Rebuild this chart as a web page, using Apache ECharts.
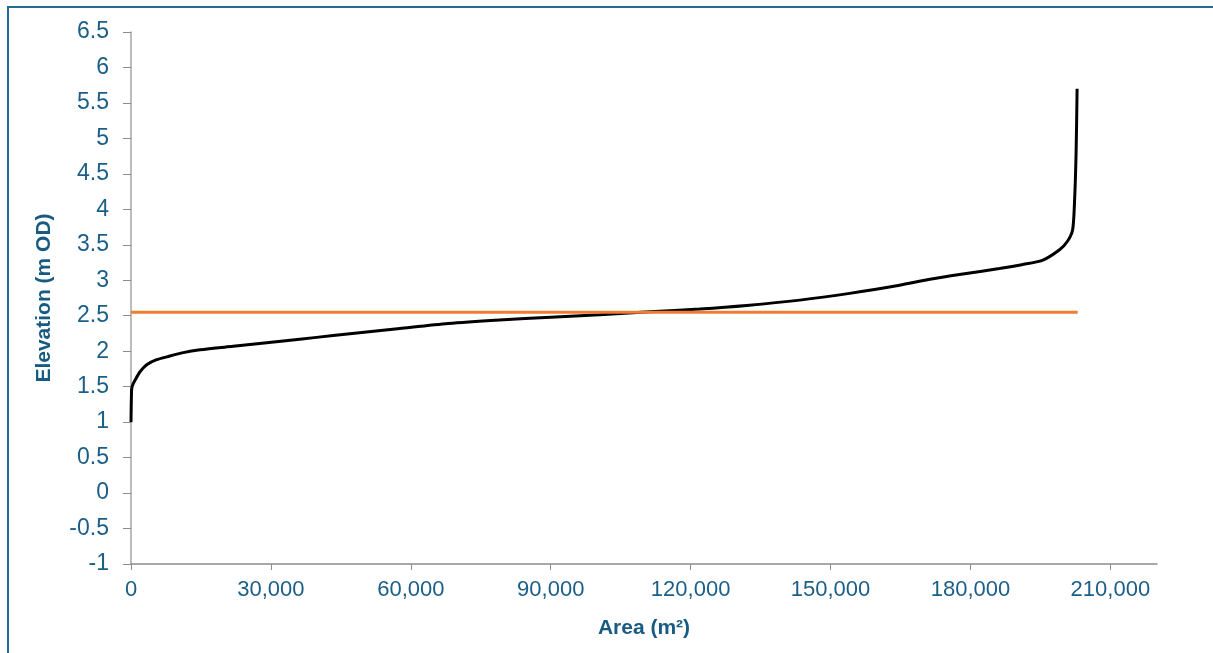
<!DOCTYPE html>
<html>
<head>
<meta charset="utf-8">
<title>Elevation vs Area</title>
<script src="https://cdn.jsdelivr.net/npm/echarts@6/dist/echarts.min.js"></script>
<style>
  html, body { margin: 0; padding: 0; background: #ffffff; }
  #chart { width: 1213px; height: 653px; }
</style>
</head>
<body>
<div id="chart"></div>
<script>
// Cumulative area (m²) lying below each elevation (m OD)
const areaValues = [0, 40, 90, 150, 400, 857, 1930, 3360, 5500, 7650, 11200, 14800, 21900,
  29100, 36200, 43350, 50500, 57650, 68000, 79000, 90000, 100500, 111200, 121900,
  132000, 143400, 154100, 164800, 171000, 178000, 186200, 191000, 195400, 199100,
  200800, 201900, 202300, 202650, 202870];
const elevationValues = [1.0, 1.2, 1.38, 1.47, 1.53, 1.59, 1.71, 1.81, 1.88, 1.92, 1.98, 2.02, 2.07,
  2.12, 2.17, 2.22, 2.27, 2.32, 2.39, 2.44, 2.48, 2.515, 2.555, 2.595,
  2.645, 2.72, 2.815, 2.93, 3.01, 3.085, 3.165, 3.22, 3.28, 3.43,
  3.55, 3.71, 4.08, 4.79, 5.70];

// Reference level drawn across the full extent of the curve
const referenceLevel = 2.55;
const referenceExtent = [0, 203000];

// Axis ticks
const xTickValues = [0, 30000, 60000, 90000, 120000, 150000, 180000, 210000];
const yTickMin = -1;
const yTickMax = 6.5;
const yTickStep = 0.5;

const labelColor = '#1B5E87';
const titleColor = '#175A82';

const curveData = areaValues.map((a, i) => [a, elevationValues[i]]);
const referenceData = referenceExtent.map(a => [a, referenceLevel]);

const chart = echarts.init(document.getElementById('chart'), null, { renderer: 'canvas' });

chart.setOption({
  backgroundColor: '#ffffff',
  animation: false,
  textStyle: { fontFamily: 'Liberation Sans, Arial, sans-serif' },
  graphic: [{
    type: 'rect',
    silent: true,
    shape: { x: 8, y: 7, width: 1400, height: 800 },
    style: { fill: null, stroke: '#266C92', lineWidth: 2 }
  }],
  grid: { left: 131, top: 32, right: 56, bottom: 89, containLabel: false },
  xAxis: {
    type: 'value',
    min: 0,
    max: 220000,
    name: 'Area (m²)',
    nameLocation: 'middle',
    nameGap: 54,
    nameTextStyle: { color: titleColor, fontSize: 21, fontWeight: 'bold' },
    axisLine: { show: true, onZero: false, lineStyle: { color: '#8C8C8C', width: 1.5 } },
    axisTick: { show: true, length: 6, lineStyle: { color: '#8C8C8C' }, customValues: xTickValues },
    axisLabel: {
      color: labelColor,
      fontSize: 22,
      margin: 15,
      customValues: xTickValues,
      formatter: v => v.toLocaleString('en-US')
    },
    splitLine: { show: false }
  },
  yAxis: {
    type: 'value',
    min: yTickMin,
    max: yTickMax,
    interval: yTickStep,
    name: 'Elevation (m OD)',
    nameLocation: 'middle',
    nameGap: 76,
    nameRotate: 90,
    nameTextStyle: { color: titleColor, fontSize: 21, fontWeight: 'bold' },
    axisLine: { show: true, onZero: false, lineStyle: { color: '#A6A6A6', width: 1.5 } },
    axisTick: { show: true, length: 8, lineStyle: { color: '#8C8C8C' } },
    axisLabel: { color: labelColor, fontSize: 23, margin: 22 },
    splitLine: { show: false }
  },
  series: [
    {
      name: 'Elevation',
      type: 'line',
      data: curveData,
      showSymbol: false,
      smooth: 0.25,
      lineStyle: { color: '#000000', width: 3 },
      z: 2
    },
    {
      name: 'Reference level',
      type: 'line',
      data: referenceData,
      showSymbol: false,
      lineStyle: { color: '#ED7D31', width: 3 },
      z: 3
    }
  ]
});
</script>
</body>
</html>
